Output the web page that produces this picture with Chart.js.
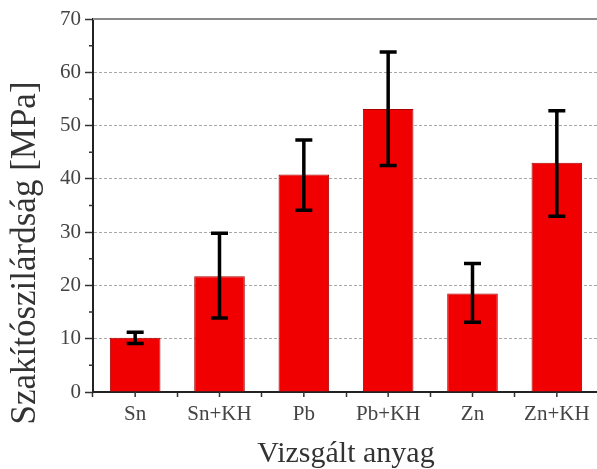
<!DOCTYPE html>
<html>
<head>
<meta charset="utf-8">
<script src="https://cdn.jsdelivr.net/npm/chart.js@4/dist/chart.umd.min.js"></script>
<style>
  html, body { margin: 0; padding: 0; background: #fff; overflow: hidden; }
  #wrap { width: 603px; height: 469px; }
</style>
</head>
<body>
<div id="wrap"><canvas id="chart" width="603" height="469"></canvas></div>
<script>
// Data
const categories = ['Sn', 'Sn+KH', 'Pb', 'Pb+KH', 'Zn', 'Zn+KH'];
const strength = [10.2, 21.7, 40.8, 53.1, 18.5, 43.0];
const errLow = [9.1, 13.9, 34.1, 42.5, 13.1, 33.0];
const errHigh = [11.2, 29.8, 47.3, 63.8, 24.1, 52.8];
const yTicks = [0, 10, 20, 30, 40, 50, 60, 70];
const yMinorTicks = [5, 15, 25, 35, 45, 55, 65];

const serif = '"Liberation Serif", "DejaVu Serif", serif';

// Error bars, minor ticks, top frame and the y title
const extras = {
    id: 'extras',
    afterDatasetsDraw(chart) {
        const ctx = chart.ctx;
        const y = chart.scales.y;
        const meta = chart.getDatasetMeta(0);
        ctx.save();
        ctx.strokeStyle = '#000';
        ctx.lineWidth = 3.5;
        meta.data.forEach((bar, i) => {
            const top = y.getPixelForValue(errHigh[i]);
            const bottom = y.getPixelForValue(errLow[i]);
            ctx.beginPath();
            ctx.moveTo(bar.x, top);
            ctx.lineTo(bar.x, bottom);
            ctx.moveTo(bar.x - 8.5, top);
            ctx.lineTo(bar.x + 8.5, top);
            ctx.moveTo(bar.x - 8.5, bottom);
            ctx.lineTo(bar.x + 8.5, bottom);
            ctx.stroke();
        });
        ctx.restore();
    },
    afterDraw(chart) {
        const ctx = chart.ctx;
        const area = chart.chartArea;
        const y = chart.scales.y;
        const x = chart.scales.x;
        ctx.save();
        // top frame
        ctx.strokeStyle = '#8a8a8a';
        ctx.lineWidth = 2;
        ctx.beginPath();
        ctx.moveTo(area.left, area.top);
        ctx.lineTo(area.right + 10, area.top);
        ctx.stroke();
        // minor ticks
        ctx.strokeStyle = '#333';
        ctx.lineWidth = 1.5;
        ctx.beginPath();
        yMinorTicks.forEach(v => {
            const py = y.getPixelForValue(v);
            ctx.moveTo(area.left - 4, py);
            ctx.lineTo(area.left, py);
        });
        categories.forEach((c, i) => {
            const px = x.getPixelForValue(i);
            ctx.moveTo(px, area.bottom);
            ctx.lineTo(px, area.bottom + 5);
        });
        ctx.stroke();
        // y axis title
        ctx.fillStyle = '#333';
        ctx.font = '35px ' + serif;
        ctx.textAlign = 'center';
        ctx.textBaseline = 'alphabetic';
        ctx.translate(35, area.bottom - 139);
        ctx.rotate(-Math.PI / 2);
        ctx.fillText('Szakítószilárdság [MPa]', 0, 0);
        ctx.restore();
    }
};

new Chart(document.getElementById('chart'), {
    type: 'bar',
    data: {
        labels: categories,
        datasets: [{
            data: strength,
            backgroundColor: '#f00000',
            borderColor: '#a80000',
            borderWidth: 1,
            barPercentage: 0.6,
            categoryPercentage: 1
        }]
    },
    options: {
        responsive: false,
        animation: false,
        devicePixelRatio: 1,
        layout: { padding: { top: 19, right: 4, left: 0, bottom: 0 } },
        plugins: {
            legend: { display: false },
            tooltip: { enabled: false }
        },
        scales: {
            x: {
                offset: true,
                grid: {
                    offset: true,
                    drawOnChartArea: false,
                    tickLength: 5,
                    tickColor: '#333',
                    tickWidth: 1.5
                },
                border: { color: '#222', width: 2 },
                ticks: {
                    color: '#444',
                    padding: 5,
                    font: { family: serif, size: 21 }
                },
                title: {
                    display: true,
                    text: 'Vizsgált anyag',
                    color: '#333',
                    font: { family: serif, size: 30, lineHeight: 1 },
                    padding: 0
                },
                afterFit(scale) { scale.height = 77; }
            },
            y: {
                min: 0,
                max: 70,
                afterBuildTicks(scale) { scale.ticks = yTicks.map(v => ({ value: v })); },
                grid: {
                    color: ctx => (ctx.tick && ctx.tick.value > 0 && ctx.tick.value < 70) ? '#a8a8a8' : 'rgba(0,0,0,0)',
                    lineWidth: 1,
                    tickLength: 8,
                    tickColor: '#333',
                    tickWidth: 1.5,
                    tickBorderDash: []
                },
                border: { color: '#222', width: 2, dash: [3, 2] },
                ticks: {
                    color: '#444',
                    padding: 4,
                    font: { family: serif, size: 21 }
                },
                afterFit(scale) { scale.width = 93; }
            }
        }
    },
    plugins: [extras]
});
</script>
</body>
</html>
